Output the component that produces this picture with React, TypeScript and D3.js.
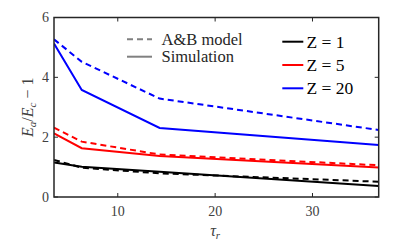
import React from "react";
import * as d3 from "d3";

const tau = [3.45, 6.3, 14.3, 36.8];
const simZ1 = [1.15, 1.01, 0.84, 0.37];
const modelZ1 = [1.24, 0.98, 0.79, 0.51];
const simZ5 = [2.13, 1.63, 1.37, 0.99];
const modelZ5 = [2.32, 1.85, 1.42, 1.06];
const simZ20 = [5.13, 3.58, 2.31, 1.74];
const modelZ20 = [5.27, 4.52, 3.29, 2.24];
const xTicks = [10, 20, 30];
const yTicks = [0, 2, 4, 6];
const seriesNames = ["Z = 1", "Z = 5", "Z = 20"];
const seriesColors = ["#000000", "#ff0000", "#0000ff"];

const W = 419, H = 243;
const L = 54, R = 378.7, T = 17.5, B = 197;

export default function App() {
  const x = d3.scaleLinear().domain([tau[0], tau[tau.length - 1]]).range([L, R]);
  const y = d3.scaleLinear().domain([0, 6]).range([B, T]);
  const line = d3.line<number>().x((_, i) => x(tau[i])).y((v) => y(v));
  const sims = [simZ1, simZ5, simZ20];
  const models = [modelZ1, modelZ5, modelZ20];
  const axisColor = "#262626";
  const font = "Liberation Serif, DejaVu Serif, serif";
  return (
    <svg width={W} height={H} style={{ position: "absolute", left: 0, top: 0, fontFamily: font }}>
      <rect x={0} y={0} width={W} height={H} fill="white" />
      <defs>
        <clipPath id="plotclip">
          <rect x={L} y={T} width={R - L} height={B - T} />
        </clipPath>
      </defs>
      <g clipPath="url(#plotclip)">
        {sims.map((s, k) => (
          <path key={"s" + k} d={line(s) || ""} fill="none" stroke={seriesColors[k]} strokeWidth={2} />
        ))}
        {models.map((s, k) => (
          <path key={"m" + k} d={line(s) || ""} fill="none" stroke={seriesColors[k]} strokeWidth={2} strokeDasharray="6,4" />
        ))}
      </g>
      {xTicks.map((t) => (
        <g key={"xt" + t}>
          <line x1={x(t)} x2={x(t)} y1={B} y2={B - 4} stroke={axisColor} strokeWidth={1} />
          <line x1={x(t)} x2={x(t)} y1={T} y2={T + 4} stroke={axisColor} strokeWidth={1} />
          <text x={x(t)} y={B + 19} textAnchor="middle" fontSize={14} fill="#404040">{t}</text>
        </g>
      ))}
      {yTicks.map((t) => (
        <g key={"yt" + t}>
          <line x1={L} x2={L + 4} y1={y(t)} y2={y(t)} stroke={axisColor} strokeWidth={1} />
          <line x1={R} x2={R - 4} y1={y(t)} y2={y(t)} stroke={axisColor} strokeWidth={1} />
          <text x={L - 5} y={y(t) + 4.5} textAnchor="end" fontSize={14} fill="#404040">{t}</text>
        </g>
      ))}
      <rect x={L} y={T} width={R - L} height={B - T} fill="none" stroke={axisColor} strokeWidth={1.5} />
      <text x={x(20)} y={236} textAnchor="middle" fontSize={16} fill="#404040">
        <tspan fontStyle="italic">τ</tspan>
        <tspan fontStyle="italic" fontSize={11} dy={3}>r</tspan>
      </text>
      <text transform={`translate(33, ${(T + B) / 2}) rotate(-90)`} textAnchor="middle" fontSize={16} fill="#404040">
        <tspan fontStyle="italic">E</tspan>
        <tspan fontStyle="italic" fontSize={11} dy={3}>a</tspan>
        <tspan dy={-3}>/</tspan>
        <tspan fontStyle="italic">E</tspan>
        <tspan fontStyle="italic" fontSize={11} dy={3}>c</tspan>
        <tspan dy={-3}> − 1</tspan>
      </text>
      <line x1={127} x2={152} y1={39.3} y2={39.3} stroke="#808080" strokeWidth={2} strokeDasharray="6,4" />
      <text x={161.5} y={44.5} fontSize={16.5} fill="#262626">A&amp;B model</text>
      <line x1={127} x2={152} y1={56.7} y2={56.7} stroke="#808080" strokeWidth={2} />
      <text x={161.5} y={62} fontSize={16.5} fill="#262626">Simulation</text>
      {seriesNames.map((n, k) => (
        <g key={n}>
          <line x1={282.3} x2={303.3} y1={41.7 + k * 23.3} y2={41.7 + k * 23.3} stroke={seriesColors[k]} strokeWidth={2} />
          <text x={306.5} y={47.5 + k * 23.3} fontSize={17.5} fill="#000">{n}</text>
        </g>
      ))}
    </svg>
  );
}
